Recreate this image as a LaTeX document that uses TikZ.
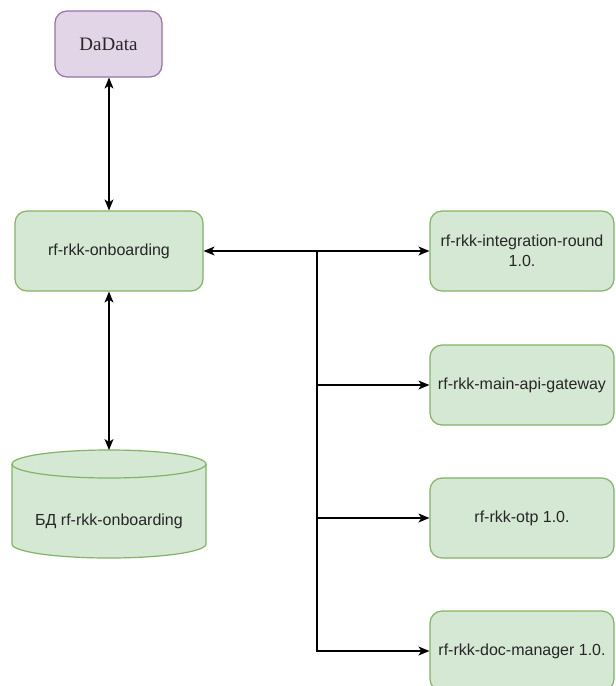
\documentclass[tikz,border=0pt]{standalone}
\usepackage{fontspec}
\setmainfont{Liberation Sans}
\newfontfamily\serifdd{Liberation Serif}
\usetikzlibrary{arrows.meta}
\definecolor{gfill}{HTML}{D5E8D4}
\definecolor{gline}{HTML}{82B366}
\definecolor{pfill}{HTML}{E1D5E7}
\definecolor{pline}{HTML}{9673A6}
\tikzset{
  svc/.style={draw=gline, fill=gfill, line width=1.2pt, rounded corners=12pt,
    minimum width=184pt, minimum height=80pt, align=center, inner sep=2pt,
    font=\fontsize{16}{20}\selectfont, text=black!85},
  ext/.style={draw=pline, fill=pfill, line width=1.2pt, rounded corners=12pt,
    minimum width=107pt, minimum height=66pt, font=\serifdd\fontsize{19}{22}\selectfont, text=black!85},
  conn/.style={line width=1.3pt, -{Stealth[length=11pt,width=9pt,inset=3pt]}},
  bconn/.style={line width=1.3pt, {Stealth[length=11pt,width=9pt,inset=3pt]}-{Stealth[length=11pt,width=9pt,inset=3pt]}},
}
\begin{document}
\begin{tikzpicture}[x=1pt,y=-1pt]
\clip (0,0) rectangle (616,686);
\fill[white] (0,0) rectangle (616,686);
\node[ext] (dadata) at (108.5,44) {DaData};
\node[svc, minimum width=188pt] (onb) at (109,251) {rf-rkk-onboarding};
\node[svc] (int) at (522,251) {rf-rkk-integration-round\\1.0.};
\node[svc] (gw) at (522,385) {rf-rkk-main-api-gateway};
\node[svc] (otp) at (522,518) {rf-rkk-otp 1.0.};
\node[svc] (doc) at (522,651) {rf-rkk-doc-manager 1.0.};
% database cylinder
\draw[draw=gline, fill=gfill, line width=1.2pt]
  (12,464) -- (12,544) arc[start angle=180, end angle=0, x radius=97, y radius=14]
  -- (206,464) arc[start angle=0, end angle=-180, x radius=97, y radius=14] -- cycle;
\draw[draw=gline, line width=1.2pt] (12,464) arc[start angle=180, end angle=0, x radius=97, y radius=14];
\coordinate (dbtop) at (109,450);
\node[font=\fontsize{16}{20}\selectfont, text=black!85] (dblabel) at (109,521) {БД rf-rkk-onboarding};
% connectors
\draw[bconn] (dadata.south -| onb.north) -- (onb.north);
\draw[bconn] (onb.south) -- (dbtop);
\coordinate (trunk) at (317,251);
\draw[conn] (trunk) -- (onb.east);
\draw[conn] (trunk) -- (int.west);
\draw[conn] (trunk) |- (gw.west);
\draw[conn] (trunk) |- (otp.west);
\draw[conn] (trunk) |- (doc.west);
\end{tikzpicture}
\end{document}
